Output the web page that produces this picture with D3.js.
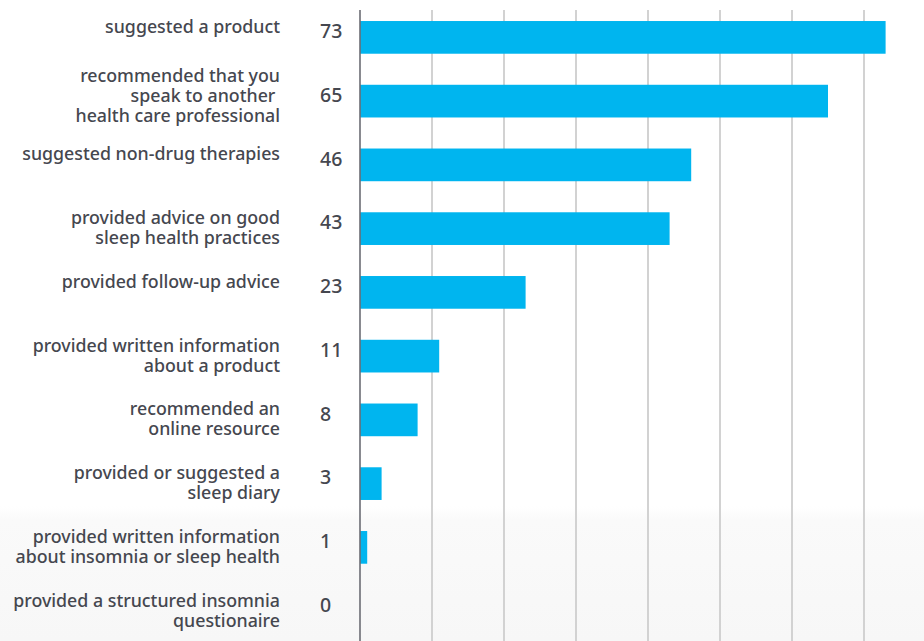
<!DOCTYPE html>
<html>
<head>
<meta charset="utf-8">
<script src="https://cdn.jsdelivr.net/npm/d3@7"></script>
<style>
  html, body { margin: 0; padding: 0; background: #fff; }
  svg { display: block; }
</style>
</head>
<body>
<svg id="chart" width="924" height="641"></svg>
<script>
// Actions taken, one entry per bar (label lines as drawn)
const categories = [
  ["suggested a product"],
  ["recommended that you", "speak to another\u00a0", "health care professional"],
  ["suggested non-drug therapies"],
  ["provided advice on good", "sleep health practices"],
  ["provided follow-up advice"],
  ["provided written information", "about a product"],
  ["recommended an", "online resource"],
  ["provided or suggested a", "sleep diary"],
  ["provided written information", "about insomnia or sleep health"],
  ["provided a structured insomnia", "questionaire"]
];
const values = [73, 65, 46, 43, 23, 11, 8, 3, 1, 0];
const gridTicks = [10, 20, 30, 40, 50, 60, 70, 80];

const W = 924, H = 641;
const svg = d3.select("#chart");

// soft background fade at the bottom
const defs = svg.append("defs");
const grad = defs.append("linearGradient")
  .attr("id", "bg").attr("x1", 0).attr("y1", 0).attr("x2", 0).attr("y2", 1);
grad.append("stop").attr("offset", "0%").attr("stop-color", "#ffffff");
grad.append("stop").attr("offset", "79%").attr("stop-color", "#ffffff");
grad.append("stop").attr("offset", "81%").attr("stop-color", "#fafafa");
grad.append("stop").attr("offset", "100%").attr("stop-color", "#f7f7f7");
svg.append("rect").attr("width", W).attr("height", H).attr("fill", "url(#bg)");

const keys = d3.range(values.length);
const x = d3.scaleLinear().domain([0, 80]).range([360, 936]);
const y = d3.scaleBand().domain(keys).range([5.5, 643])
  .paddingInner(0.487).paddingOuter(0.2435);

// vertical gridlines
svg.append("g").selectAll("line").data(gridTicks).join("line")
  .attr("x1", d => x(d)).attr("x2", d => x(d))
  .attr("y1", 10).attr("y2", H)
  .attr("stroke", "#d2d2d2").attr("stroke-width", 2);

// bars
svg.append("g").selectAll("rect").data(keys).join("rect")
  .attr("x", x(0))
  .attr("y", i => y(i))
  .attr("width", i => x(values[i]) - x(0))
  .attr("height", y.bandwidth())
  .attr("fill", "#00b5ef");

// baseline axis
svg.append("line")
  .attr("x1", x(0)).attr("x2", x(0)).attr("y1", 10).attr("y2", H)
  .attr("stroke", "#6b6c74").attr("stroke-width", 1.6);

const font = "'Noto Sans', 'Open Sans', sans-serif";
const textColor = "#45474f";

// category labels, right aligned
const labels = svg.append("g")
  .attr("font-family", font).attr("font-size", 17.8).attr("font-weight", 500)
  .attr("fill", textColor).attr("text-anchor", "end");
keys.forEach(i => {
  const lines = categories[i];
  const cy = y(i) + y.bandwidth() / 2;
  const first = cy + (lines.length > 2 ? -19.4 : -4.5);
  const t = labels.append("text").attr("x", 280).attr("y", first)
    .style("white-space", "pre");
  lines.forEach((ln, k) => {
    t.append("tspan").attr("x", 280).attr("y", first + k * 20).text(ln);
  });
});

// value labels
svg.append("g")
  .attr("font-family", font).attr("font-size", 19.5).attr("font-weight", 500)
  .attr("fill", textColor)
  .selectAll("text").data(keys).join("text")
  .attr("x", 320)
  .attr("y", i => y(i) + y.bandwidth() / 2 + 0.8)
  .text(i => values[i]);
</script>
</body>
</html>
